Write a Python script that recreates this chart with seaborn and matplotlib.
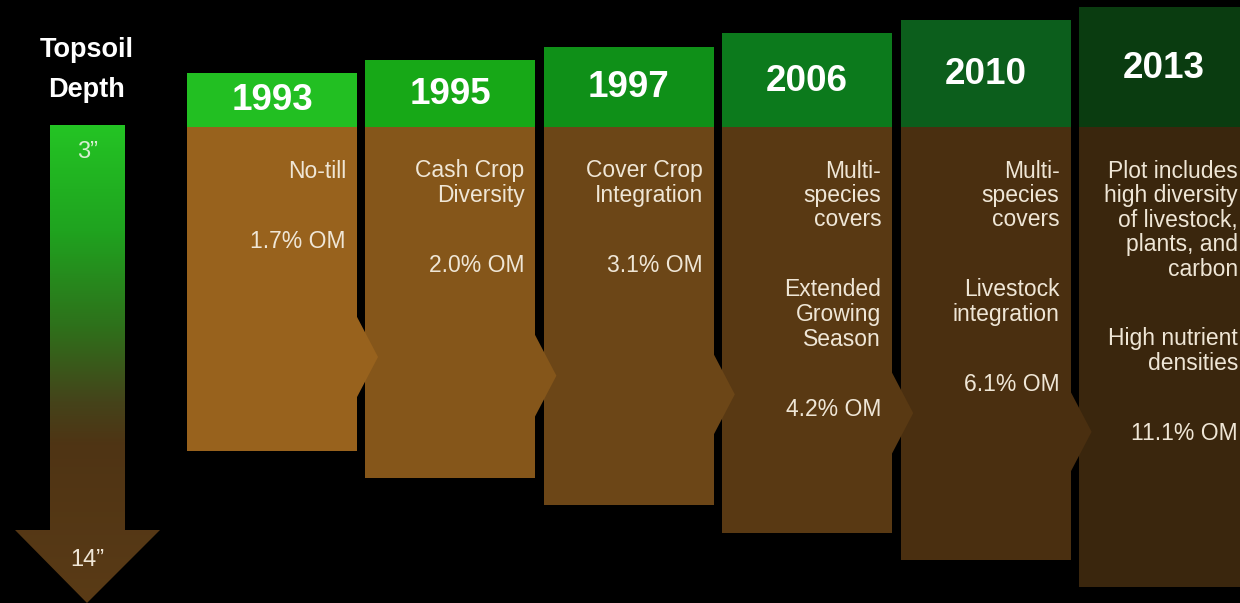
import numpy as np
import seaborn as sns
import matplotlib.pyplot as plt
from matplotlib.colors import LinearSegmentedColormap
from matplotlib.patches import Polygon

# timeline data
years = ["1993", "1995", "1997", "2006", "2010", "2013"]
practices = [
    ["No-till"],
    ["Cash Crop\nDiversity"],
    ["Cover Crop\nIntegration"],
    ["Multi-\nspecies\ncovers", "Extended\nGrowing\nSeason"],
    ["Multi-\nspecies\ncovers", "Livestock\nintegration"],
    ["Plot includes\nhigh diversity\nof livestock,\nplants, and\ncarbon", "High nutrient\ndensities"],
]
om_pct = [1.7, 2.0, 3.1, 4.2, 6.1, 11.1]
depth_top = "3\u201d"
depth_bottom = "14\u201d"

header_colors = ["#22bf22", "#17a817", "#0f9018", "#0c7a1c", "#0c5e1c", "#0a3c10"]
body_colors = ["#98621d", "#85561a", "#6c4617", "#593913", "#4a2f10", "#3a260d"]
text_col = "#efe6d6"

sns.set_theme(style="dark", rc={"axes.facecolor": "black", "figure.facecolor": "black"})
plt.rcParams["font.family"] = ["Liberation Sans", "DejaVu Sans"]

fig = plt.figure(figsize=(12.4, 6.03), dpi=100)
ax = fig.add_axes([0, 0, 1, 1])
ax.set_xlim(0, 1240)
ax.set_ylim(603, 0)
ax.axis("off")

n = len(years)
idx = np.arange(n)
lefts = 187 + 178.4 * idx
tops = 73 - 13.2 * idx
bottoms = 451 + 27.2 * idx
width = 170
head_bot = 127

# headers and soil columns
ax.bar(lefts, head_bot - tops, bottom=tops, width=width, align="edge",
       color=header_colors, linewidth=0, zorder=1)
ax.bar(lefts, bottoms - head_bot, bottom=head_bot, width=width, align="edge",
       color=body_colors, linewidth=0, zorder=1)

# chevrons pointing to the next column
for i in range(n - 1):
    r = lefts[i] + width
    ty = 357 + 18.7 * i
    ax.add_patch(Polygon([(r - 1, ty - 42), (r + 21, ty), (r - 1, ty + 42)],
                         closed=True, facecolor=body_colors[i], lw=0, zorder=3))

for i in range(n):
    cx = lefts[i] + width / 2
    ax.text(cx, (tops[i] + head_bot) / 2 + 1, years[i], ha="center", va="center",
            fontsize=26.5, fontweight="bold", color="white", zorder=4)
    xr = lefts[i] + width - 11
    y = 171
    blocks = practices[i] + [f"{om_pct[i]}% OM"]
    for b in blocks:
        for line in b.split("\n"):
            ax.text(xr, y, line, ha="right", va="center", fontsize=16.5,
                    color=text_col, zorder=4)
            y += 24.5
        y += 70 - 24.5

# topsoil depth arrow
arrow = Polygon([(50, 125), (125, 125), (125, 530), (160, 530), (87, 603),
                 (15, 530), (50, 530)], closed=True, fill=False, lw=0)
ax.add_patch(arrow)
cmap = LinearSegmentedColormap.from_list("soil", [
    (0.0, "#24c424"), (0.22, "#1fa31f"), (0.42, "#2e711b"),
    (0.58, "#45431a"), (0.67, "#4f3414"), (1.0, "#5a3b16")])
grad = np.linspace(0, 1, 256).reshape(-1, 1)
im = ax.imshow(grad, extent=[15, 160, 603, 125], cmap=cmap, aspect="auto", zorder=2)
im.set_clip_path(arrow)
ax.set_xlim(0, 1240)
ax.set_ylim(603, 0)

ax.text(87, 50, "Topsoil", ha="center", va="center", fontsize=19.5,
        fontweight="bold", color="white")
ax.text(87, 90, "Depth", ha="center", va="center", fontsize=19.5,
        fontweight="bold", color="white")
ax.text(88, 152, depth_top, ha="center", va="center", fontsize=17, color="#d6eed0", zorder=4)
ax.text(87, 560, depth_bottom, ha="center", va="center", fontsize=17, color=text_col, zorder=4)

fig.savefig("out.png", dpi=100, facecolor="black")
